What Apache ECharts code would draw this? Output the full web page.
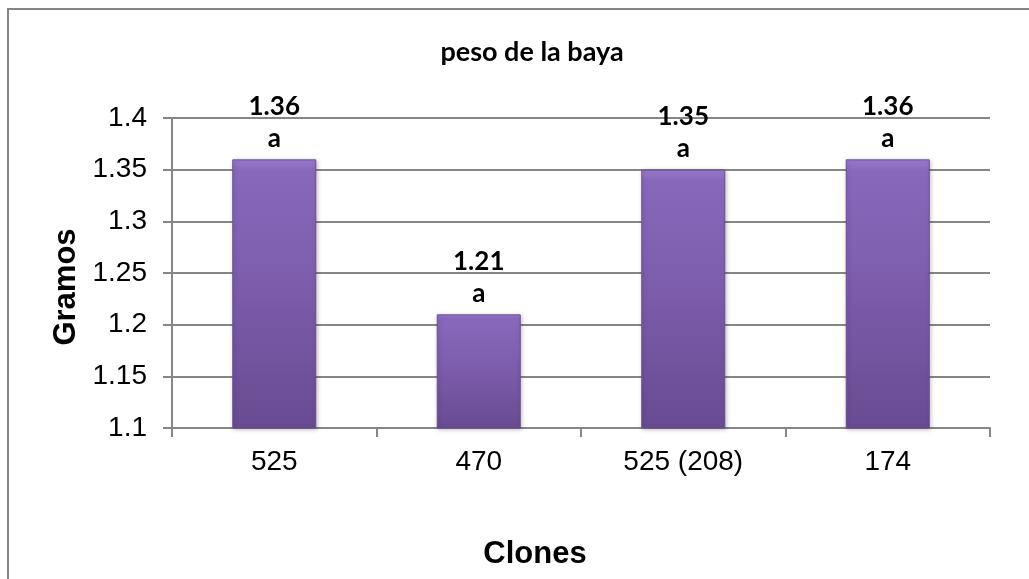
<!DOCTYPE html>
<html>
<head>
<meta charset="utf-8">
<script src="https://cdn.jsdelivr.net/npm/echarts@6/dist/echarts.min.js"></script>
<style>
  html, body { margin: 0; padding: 0; background: #ffffff; }
  #chart { width: 1029px; height: 579px; }
</style>
</head>
<body>
<div id="chart"></div>
<script>
// Clones and mean berry weight (g)
const categories = ['525', '470', '525 (208)', '174'];
const values = [1.36, 1.21, 1.35, 1.36];
const groups = ['a', 'a', 'a', 'a'];
const yTicks = { min: 1.1, max: 1.4, interval: 0.05 };

const chart = echarts.init(document.getElementById('chart'), null, { renderer: 'canvas' });

const barFill = new echarts.graphic.LinearGradient(0, 0, 0, 1, [
  { offset: 0, color: '#9c7dd3' },
  { offset: 0.04, color: '#8868bb' },
  { offset: 0.5, color: '#7b5baa' },
  { offset: 1, color: '#684b92' }
]);

chart.setOption({
  backgroundColor: '#ffffff',
  animation: false,
  title: {
    text: 'peso de la baya',
    left: 527,
    top: 34,
    textAlign: 'center',
    textStyle: { fontFamily: 'Lato', fontWeight: 'bold', fontSize: 27, color: '#000000' }
  },
  graphic: [{
    type: 'rect',
    shape: { x: 8, y: 9, width: 1100, height: 700 },
    style: { fill: 'none', stroke: '#868686', lineWidth: 2 },
    silent: true
  }],
  grid: { left: 172, right: 39, top: 118, bottom: 151 },
  xAxis: {
    type: 'category',
    data: categories,
    name: 'Clones',
    nameLocation: 'middle',
    nameGap: 111,
    nameTextStyle: { fontFamily: 'Arial, Liberation Sans', fontWeight: 'bold', fontSize: 31, color: '#000000', padding: [0, 92, 0, 0] },
    axisLine: { lineStyle: { color: '#868686', width: 2 } },
    axisTick: { show: true, length: 9, alignWithLabel: false, lineStyle: { color: '#868686', width: 2 } },
    axisLabel: { fontFamily: 'Arial, Liberation Sans', fontSize: 28, color: '#000000', margin: 20 },
    splitLine: { show: false }
  },
  yAxis: {
    type: 'value',
    min: yTicks.min,
    max: yTicks.max,
    interval: yTicks.interval,
    name: 'Gramos',
    nameLocation: 'middle',
    nameGap: 90,
    nameRotate: 90,
    nameTextStyle: { fontFamily: 'Arial, Liberation Sans', fontWeight: 'bold', fontSize: 31, color: '#000000', padding: [0, 28, 0, 0] },
    axisLine: { show: true, lineStyle: { color: '#868686', width: 2 } },
    axisTick: { show: true, length: 9, lineStyle: { color: '#868686', width: 2 } },
    axisLabel: {
      fontFamily: 'Arial, Liberation Sans', fontSize: 28, color: '#000000', margin: 25,
      formatter: v => String(Math.round(v * 100) / 100)
    },
    splitLine: { show: true, lineStyle: { color: '#868686', width: 2 } }
  },
  series: [{
    type: 'bar',
    data: values,
    barWidth: 84,
    itemStyle: {
      color: barFill,
      borderColor: '#6b4f95',
      borderWidth: 1,
      shadowColor: 'rgba(0,0,0,0.25)',
      shadowBlur: 4,
      shadowOffsetX: 1,
      shadowOffsetY: 1
    },
    label: {
      show: true,
      position: 'top',
      distance: 8,
      formatter: p => '{v|' + p.value.toFixed(2) + '}\n{g|' + groups[p.dataIndex] + '}',
      rich: {
        v: { fontFamily: 'Lato', fontWeight: 'bold', fontSize: 26, color: '#000000', lineHeight: 38 },
        g: { fontFamily: 'Lato', fontWeight: 'bold', fontSize: 26, color: '#000000', lineHeight: 26 }
      }
    }
  }]
});
</script>
</body>
</html>
